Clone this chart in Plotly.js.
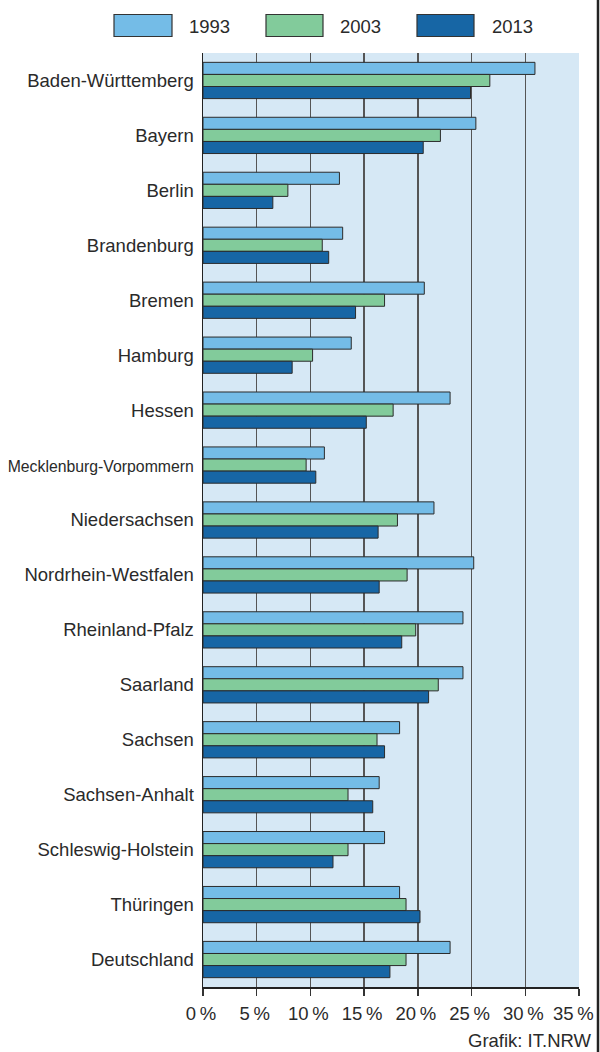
<!DOCTYPE html>
<html>
<head>
<meta charset="utf-8">
<script src="https://cdn.plot.ly/plotly-3.0.1.min.js"></script>
<style>html,body{margin:0;padding:0;background:#fff;}#chart{width:600px;height:1052px;}</style>
</head>
<body>
<div id="chart"></div>
<script>
var categories = ["Baden-Württemberg","Bayern","Berlin","Brandenburg","Bremen","Hamburg","Hessen","Mecklenburg-Vorpommern","Niedersachsen","Nordrhein-Westfalen","Rheinland-Pfalz","Saarland","Sachsen","Sachsen-Anhalt","Schleswig-Holstein","Thüringen","Deutschland"];
var seriesNames = ["1993","2003","2013"];
var values1993 = [30.9,25.4,12.7,13.0,20.6,13.8,23.0,11.3,21.5,25.2,24.2,24.2,18.3,16.4,16.9,18.3,23.0];
var values2003 = [26.7,22.1,7.9,11.1,16.9,10.2,17.7,9.6,18.1,19.0,19.8,21.9,16.2,13.5,13.5,18.9,18.9];
var values2013 = [24.9,20.5,6.5,11.7,14.2,8.3,15.2,10.5,16.3,16.4,18.5,21.0,16.9,15.8,12.1,20.2,17.4];
var xTickVals = [0,5,10,15,20,25,30,35];
var xTickText = ["0\u2009%","5\u2009%","10\u2009%","15\u2009%","20\u2009%","25\u2009%","30\u2009%","35\u2009%\u2009\u2009"];
var colors = ["#74BCE7","#82CB9B","#1766A5"];

var W = 600, H = 1052;
var M = {l:203, r:21, t:53, b:65};
var pw = W - M.l - M.r, ph = H - M.t - M.b;
function px2x(px){ return (px - M.l) / pw; }
function py2y(py){ return (H - M.b - py) / ph; }

var font = "Liberation Sans, Arial, sans-serif";
var textColor = "#2a2a2a";
var allValues = [values1993, values2003, values2013];
var traces = allValues.map(function(v, i){
  return {
    type: "bar", orientation: "h",
    y: categories, x: v, name: seriesNames[i],
    marker: {color: colors[i], line: {color: "#2b2b2b", width: 1}},
    showlegend: false, hoverinfo: "x+y"
  };
});

var tickText = categories.map(function(c){
  return c === "Mecklenburg-Vorpommern" ? '<span style="font-size:15.8px">' + c + '</span>' : c;
});

var shapes = [];
var annotations = [];
var legendBoxes = [[114,172],[266,323],[417,474]];
var legendText = [187,338,490];
for (var i = 0; i < seriesNames.length; i++) {
  shapes.push({type:"rect", xref:"paper", yref:"paper",
    x0:px2x(legendBoxes[i][0]), x1:px2x(legendBoxes[i][1]),
    y0:py2y(36.5), y1:py2y(14.5),
    fillcolor:colors[i], line:{color:"#333", width:1.2}});
  annotations.push({xref:"paper", yref:"paper", x:px2x(legendText[i]), y:py2y(26),
    xanchor:"left", yanchor:"middle", showarrow:false, text:seriesNames[i],
    font:{family:font, size:18.5, color:textColor}});
}
shapes.push({type:"line", xref:"paper", yref:"paper", x0:px2x(598), x1:px2x(598), y0:-0.2, y1:1.2,
  line:{color:"#222", width:2.5}});
annotations.push({xref:"paper", yref:"paper", x:px2x(594), y:py2y(1040), xanchor:"right", yanchor:"middle",
  showarrow:false, text:"Grafik: IT.NRW", font:{family:font, size:18.5, color:textColor}});

var layout = {
  width: W, height: H,
  margin: {l:M.l, r:M.r, t:M.t, b:M.b, pad:0},
  paper_bgcolor: "#fff", plot_bgcolor: "#D6E8F5",
  barmode: "group", bargap: 0.34, bargroupgap: 0,
  font: {family: font, size: 18, color: textColor},
  showlegend: false,
  xaxis: {range:[0,35], tickvals:xTickVals, ticktext:xTickText,
    showgrid:true, gridcolor:"#555", gridwidth:1.5,
    showline:true, linecolor:"#222", linewidth:1.5,
    ticks:"outside", ticklen:7, tickcolor:"#333", tickwidth:1.5,
    zeroline:false, fixedrange:true, ticklabelshift:-2, ticklabelstandoff:2,
    ticklabeloverflow:"allow",
    tickfont:{family:font, size:18.5, color:textColor}},
  yaxis: {type:"category", range:[16.5,-0.5], tickvals:categories, ticktext:tickText,
    showgrid:false, showline:true, linecolor:"#222", linewidth:1.5,
    ticks:"", ticklabelstandoff:4, zeroline:false, fixedrange:true,
    tickfont:{family:font, size:18.5, color:textColor}},
  shapes: shapes, annotations: annotations
};

Plotly.newPlot("chart", traces, layout, {displayModeBar:false, staticPlot:true});
</script>
</body>
</html>
